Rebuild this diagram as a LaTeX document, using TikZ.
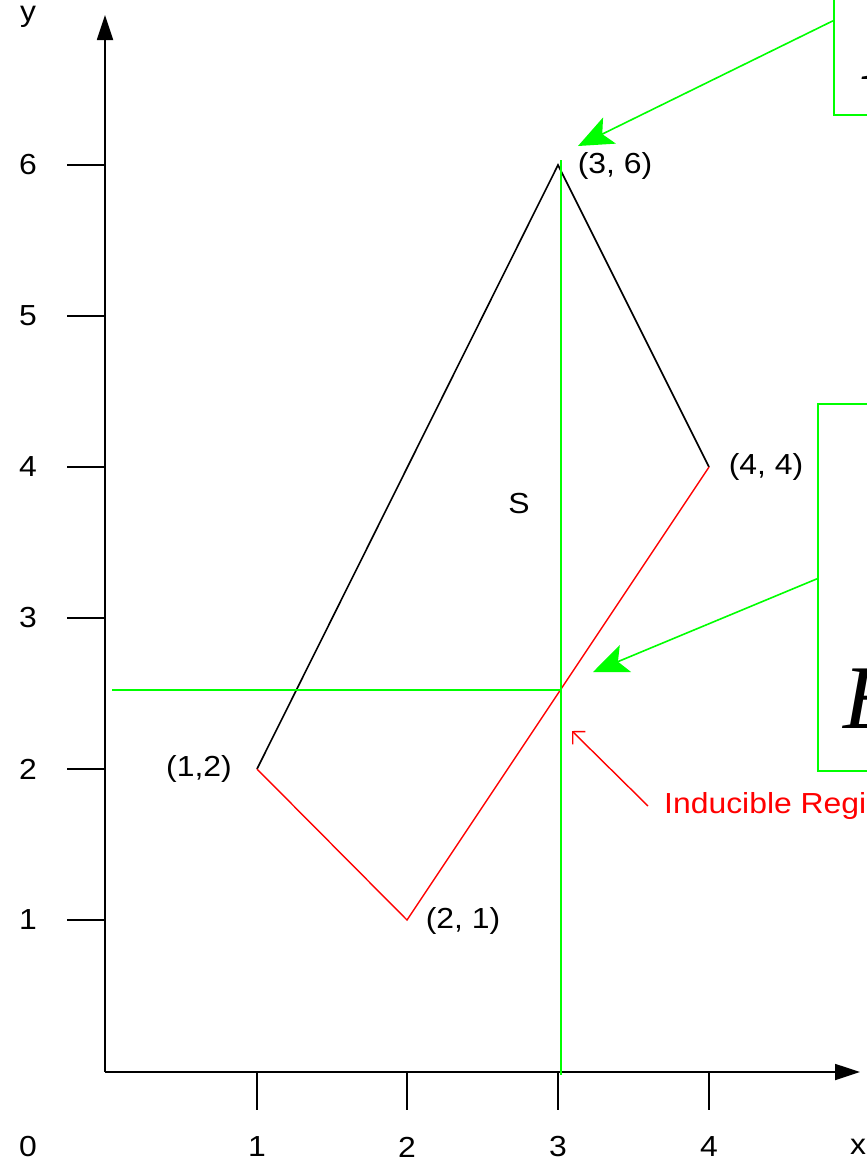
\documentclass[tikz,border=0pt]{standalone}
\usepackage{fontspec}
\setmainfont{Liberation Sans}[FakeStretch=1.1]
\newfontfamily\bigserif{Liberation Serif}
\usetikzlibrary{arrows.meta}
\begin{document}
\begin{tikzpicture}[x=1pt,y=-1pt,
  lbl/.style={font=\fontsize{29}{33}\selectfont, inner sep=0pt},
  axisline/.style={line width=1.8pt, -{Triangle[length=25pt,width=16pt]}},
  tickline/.style={line width=1.6pt},
  blkline/.style={line width=1.6pt, black},
  redline/.style={line width=1.4pt, red},
  grnline/.style={line width=1.6pt, green},
  callout/.style={grnline, -{Stealth[length=35pt,width=29pt,inset=8pt]}},
  gbox/.style={draw=green, line width=1.6pt, fill=none, inner sep=0pt, anchor=north west},
  bigtext/.style={font=\bigserif\itshape\fontsize{91}{100}\selectfont, inner sep=0pt, anchor=base west}]
\useasboundingbox (0,0) rectangle (867,1168);
\clip (0,0) rectangle (867,1168);
% axes
\coordinate (O) at (105,1072);
\coordinate (ytip) at (105,15);
\coordinate (xtip) at (860,1072);
\draw[axisline] (O) -- (ytip);
\draw[axisline] (O) -- (xtip);
\node[lbl] (ylab) at (28,17) {y};
\node[lbl] (xlab) at (858,1147) {x};
\node[lbl] (zero) at (28,1147) {0};
\foreach \i/\px in {1/257,2/407,3/558,4/709}{
  \coordinate (xt\i) at (\px,1072);
  \coordinate (xb\i) at (\px,1110);
  \draw[tickline] (xt\i) -- (xb\i);
  \node[lbl] (xl\i) at (\px,1147) {\i};
}
\foreach \i/\py in {1/920,2/769,3/618,4/467,5/316,6/165}{
  \coordinate (yt\i) at (105,\py);
  \coordinate (yb\i) at (67,\py);
  \draw[tickline] (yt\i) -- (yb\i);
  \node[lbl] (yl\i) at (28,\py) {\i};
}
% polygon
\coordinate (A) at (257,769);
\coordinate (B) at (558,165);
\coordinate (C) at (709,467);
\coordinate (D) at (407,920);
\draw[blkline] (A) -- (B) -- (C);
\draw[redline] (C) -- (D) -- (A);
\node[lbl] (lB) at (615,166) {(3, 6)};
\node[lbl] (lC) at (766,467) {(4, 4)};
\node[lbl] (lA) at (199,769) {(1,2)};
\node[lbl] (lD) at (463,921) {(2, 1)};
\node[lbl] (S) at (519,504) {S};
% green lines
\coordinate (G1) at (561,160);
\coordinate (G2) at (561,1075);
\coordinate (H1) at (112,690);
\coordinate (H2) at (561,690);
\draw[grnline] (G1) -- (G2);
\draw[grnline] (H1) -- (H2);
% boxes
\node[gbox, minimum width=120pt, minimum height=188pt] (bx1) at (833,-74) {};
\node[gbox, minimum width=120pt, minimum height=367pt] (bx2) at (817,403) {};
\node[bigtext] (t1) at (862,79) {P};
\node[bigtext] (t2) at (843,728) {E};
\coordinate (tip1) at (578,146);
\coordinate (tip2) at (593,672);
\draw[callout] (bx1.west) -- (tip1);
\draw[callout] ([yshift=8.5pt]bx2.west) -- (tip2);
% inducible region
\node[lbl, text=red, anchor=west] (ind) at (664,806) {Inducible Region};
\coordinate (rs) at (648,806);
\coordinate (rt) at (572,731);
\draw[redline, -{Straight Barb[length=9pt,width=18pt]}] (rs) -- (rt);
\end{tikzpicture}
\end{document}
